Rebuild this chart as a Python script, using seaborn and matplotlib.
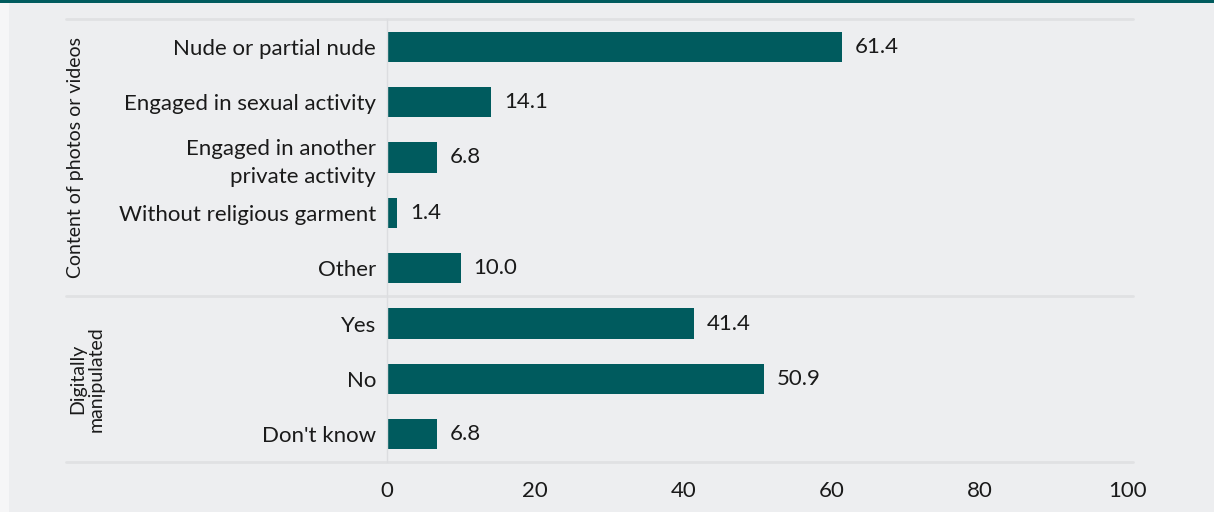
import matplotlib
matplotlib.use("Agg")
import matplotlib.pyplot as plt
import seaborn as sns
import pandas as pd
from matplotlib.patches import Rectangle

categories = ["Nude or partial nude", "Engaged in sexual activity",
              "Engaged in another\nprivate activity", "Without religious garment",
              "Other", "Yes", "No", "Don't know"]
values = [61.4, 14.1, 6.8, 1.4, 10.0, 41.4, 50.9, 6.8]
groups = ["Content of photos or videos", "Digitally\nmanipulated"]
group_sizes = [5, 3]
x_ticks = [0, 20, 40, 60, 80, 100]

df = pd.DataFrame({"category": categories, "value": values})

sns.set_theme(style="white")
plt.rcParams["font.family"] = ["Lato", "DejaVu Sans"]

BG = "#EDEEF0"
TEAL = "#005B5E"
TXT = "#1a1a1a"
FS = 16
W, H = 1214, 512
fig = plt.figure(figsize=(W / 100, H / 100), dpi=100, facecolor=BG)
fig.patches.append(Rectangle((0, 0), 9 / W, 1, transform=fig.transFigure,
                             facecolor="#F6F6F7", edgecolor="none", zorder=0))
fig.patches.append(Rectangle((0, 1 - 3 / H), 1, 3 / H, transform=fig.transFigure,
                             facecolor=TEAL, edgecolor="none", zorder=1))

ax = fig.add_axes([387 / W, 1 - 462 / H, 741 / W, 443 / H])
ax.set_facecolor(BG)
sns.barplot(data=df, x="value", y="category", color=TEAL, width=0.545,
            saturation=1, ax=ax, orient="h", linewidth=0, edgecolor="none")
ax.set_xlim(0, 100)
ax.set_ylim(len(categories) - 0.5, -0.5)
ax.set_xticks(x_ticks)
ax.set_xticklabels([str(t) for t in x_ticks], fontsize=FS, color=TXT)
ax.set_yticklabels(categories, fontsize=FS, color=TXT, linespacing=1.5)
ax.tick_params(axis="y", length=0, pad=8)
ax.tick_params(axis="x", length=0, pad=14)
ax.set_xlabel("")
ax.set_ylabel("")
for s in ["top", "right", "bottom"]:
    ax.spines[s].set_visible(False)
ax.spines["left"].set_color("#DCDDE0")
ax.spines["left"].set_linewidth(1)

for cont in ax.containers:
    ax.bar_label(cont, labels=[f"{v:.1f}" for v in values], padding=9,
                 fontsize=FS, color=TXT)

# separators
xmin = (66 - 387) / 741
xmax = (1133 - 387) / 741
bounds = [-0.5]
acc = 0
for n in group_sizes:
    acc += n
    bounds.append(acc - 0.5)
for b in bounds:
    ax.axhline(b, xmin=xmin, xmax=xmax, color="#E0E1E3", lw=2, clip_on=False, zorder=0)

# group labels
start = 0
gx = [(75 - 387) / 741, (87 - 387) / 741]
for g, n, xx in zip(groups, group_sizes, gx):
    center = start + (n - 1) / 2
    ax.text(xx, center, g, rotation=90, ha="center", va="center",
            fontsize=14, color=TXT, transform=ax.get_yaxis_transform(),
            multialignment="center", linespacing=1.1)
    start += n

fig.savefig("out.png", dpi=100, facecolor=BG)
